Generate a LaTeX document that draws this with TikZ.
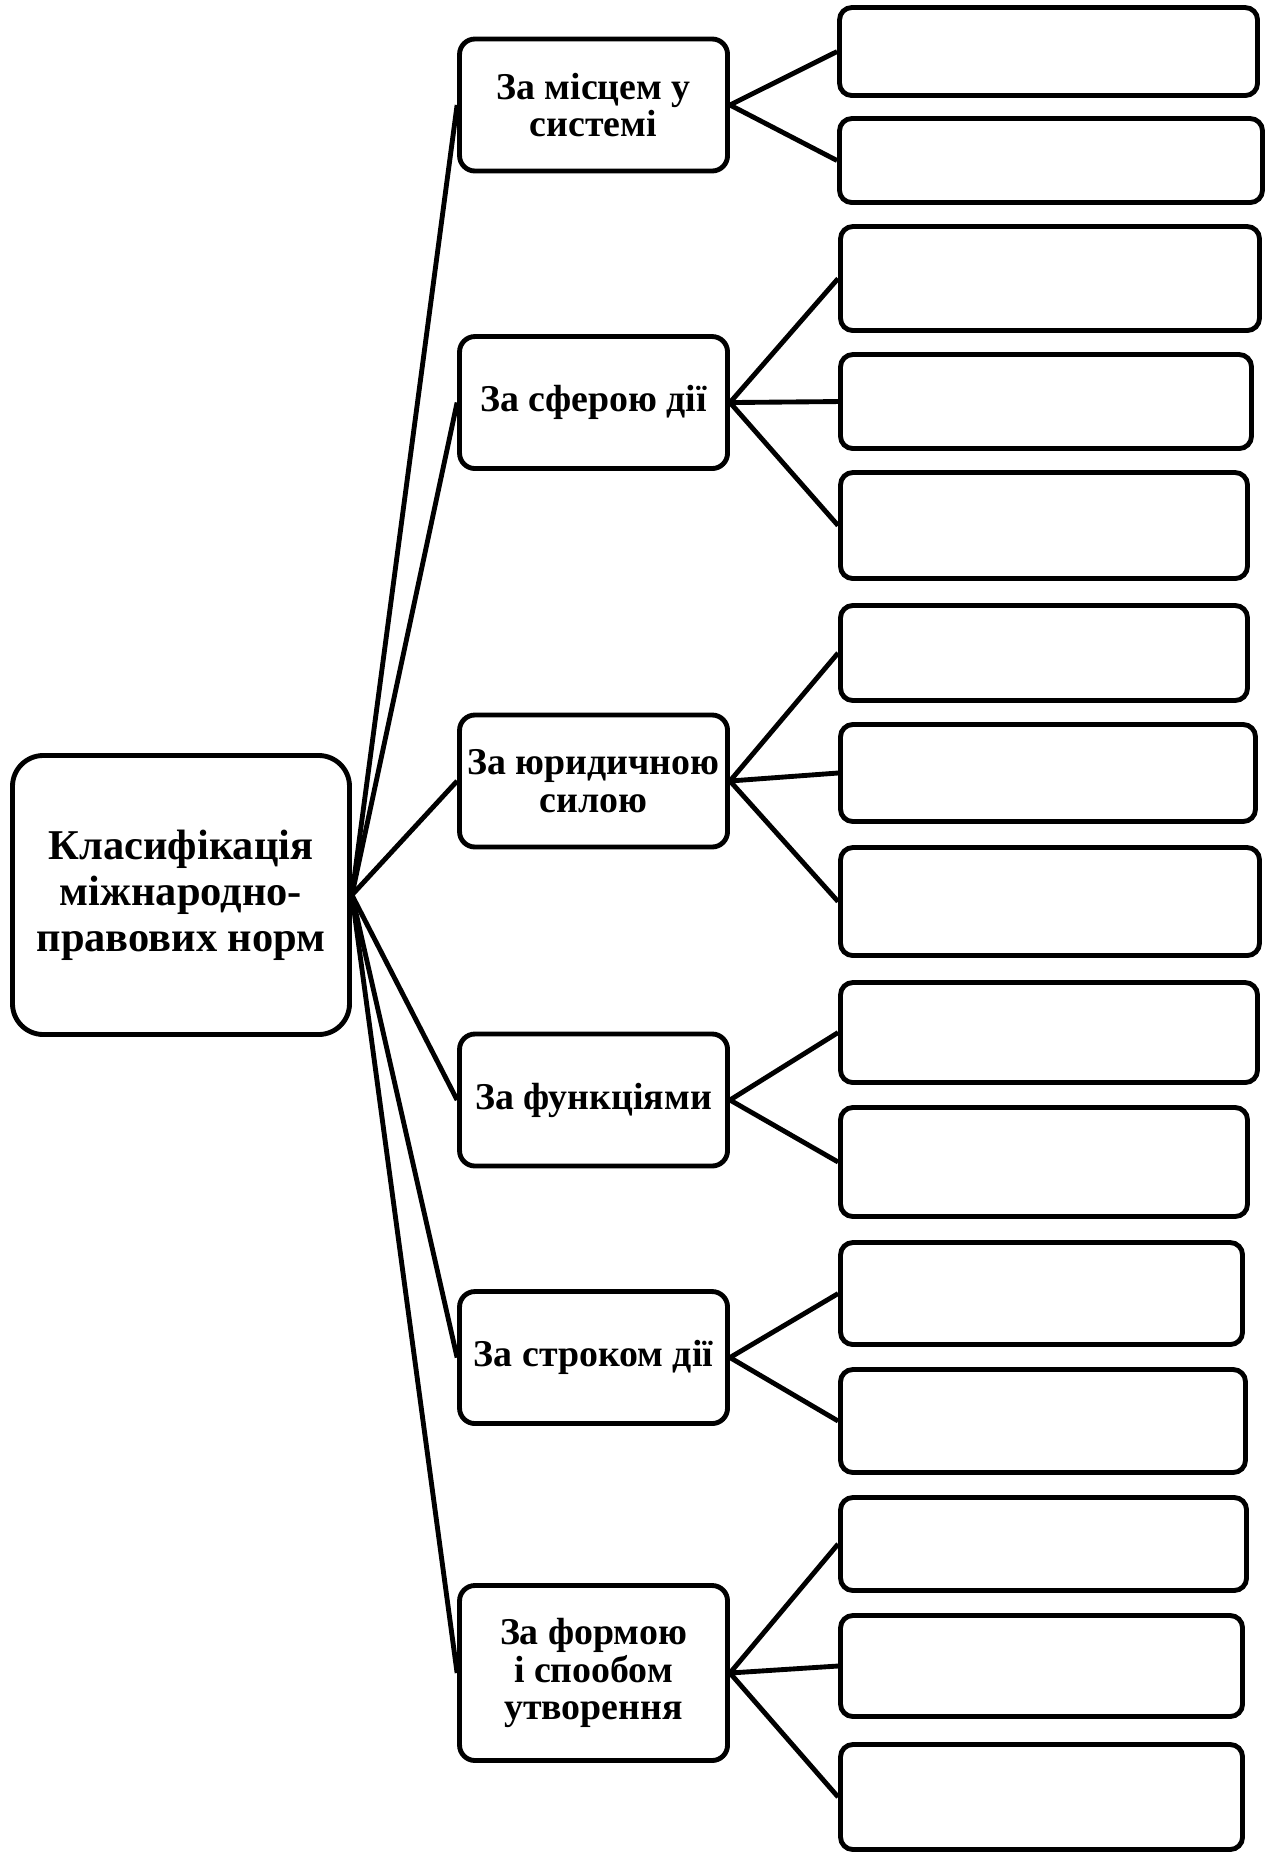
\documentclass[tikz,border=0pt]{standalone}
\usepackage{fontspec}
\setmainfont{Liberation Serif}
\usepackage{tikz}
\tikzstyle{root}=[draw, rectangle, rounded corners=0.4cm, align=center,
minimum width=4.381cm, minimum height=3.627cm, inner sep=0pt,
font=\fontsize{15.7}{17}\selectfont\bfseries]
\tikzstyle{crit}=[draw, rectangle, rounded corners=0.2cm, align=center,
minimum width=3.484cm, minimum height=1.716cm, inner sep=0pt,
font=\fontsize{14}{14}\selectfont\bfseries]
\tikzstyle{leaf}=[draw, rectangle, rounded corners=0.16cm, inner sep=0pt]

\begin{document}
\begin{tikzpicture}[line width=1.8pt]
      \useasboundingbox (0,0) rectangle (16.575,-24.076);
      \node [root] (a) at (2.353,-11.635) {Класифікація\\міжнародно-\\правових норм};
      % criteria
      \node [crit] (b) at (7.716,-1.365) {За місцем у\\системі};
      \node [crit] (c) at (7.716,-5.233) {За сферою дії};
      \node [crit] (d) at (7.716,-10.153) {За юридичною\\силою};
      \node [crit] (e) at (7.716,-14.3) {За функціями};
      \node [crit] (f) at (7.716,-17.648) {За строком дії};
      \node [crit, minimum height=2.275cm] (g) at (7.716,-21.749) {За формою\\і спообом\\утворення};
      % empty boxes
      \node [leaf, minimum width=5.434cm, minimum height=1.144cm] (b1) at (13.631,-0.670) {};
      \node [leaf, minimum width=5.499cm, minimum height=1.092cm] (b2) at (13.663,-2.087) {};
      \node [leaf, minimum width=5.447cm, minimum height=1.352cm] (c1) at (13.65,-3.621) {};
      \node [leaf, minimum width=5.343cm, minimum height=1.222cm] (c2) at (13.598,-5.220) {};
      \node [leaf, minimum width=5.291cm, minimum height=1.378cm] (c3) at (13.572,-6.832) {};
      \node [leaf, minimum width=5.291cm, minimum height=1.235cm] (d1) at (13.572,-8.489) {};
      \node [leaf, minimum width=5.395cm, minimum height=1.261cm] (d2) at (13.624,-10.049) {};
      \node [leaf, minimum width=5.447cm, minimum height=1.404cm] (d3) at (13.65,-11.720) {};
      \node [leaf, minimum width=5.421cm, minimum height=1.3cm] (e1) at (13.637,-13.423) {};
      \node [leaf, minimum width=5.291cm, minimum height=1.417cm] (e2) at (13.572,-15.106) {};
      \node [leaf, minimum width=5.226cm, minimum height=1.326cm] (f1) at (13.540,-16.816) {};
      \node [leaf, minimum width=5.265cm, minimum height=1.339cm] (f2) at (13.559,-18.473) {};
      \node [leaf, minimum width=5.278cm, minimum height=1.209cm] (g1) at (13.566,-20.072) {};
      \node [leaf, minimum width=5.226cm, minimum height=1.313cm] (g2) at (13.540,-21.658) {};
      \node [leaf, minimum width=5.226cm, minimum height=1.365cm] (g3) at (13.540,-23.361) {};
      % connectors
      \draw (a.east) -- (b.west);
      \draw (a.east) -- (c.west);
      \draw (a.east) -- (d.west);
      \draw (a.east) -- (e.west);
      \draw (a.east) -- (f.west);
      \draw (a.east) -- (g.west);
      \draw (b.east) -- (b1.west);
      \draw (b.east) -- (b2.west);
      \draw (c.east) -- (c1.west);
      \draw (c.east) -- (c2.west);
      \draw (c.east) -- (c3.west);
      \draw (d.east) -- (d1.west);
      \draw (d.east) -- (d2.west);
      \draw (d.east) -- (d3.west);
      \draw (e.east) -- (e1.west);
      \draw (e.east) -- (e2.west);
      \draw (f.east) -- (f1.west);
      \draw (f.east) -- (f2.west);
      \draw (g.east) -- (g1.west);
      \draw (g.east) -- (g2.west);
      \draw (g.east) -- (g3.west);
  \end{tikzpicture}
\end{document}
